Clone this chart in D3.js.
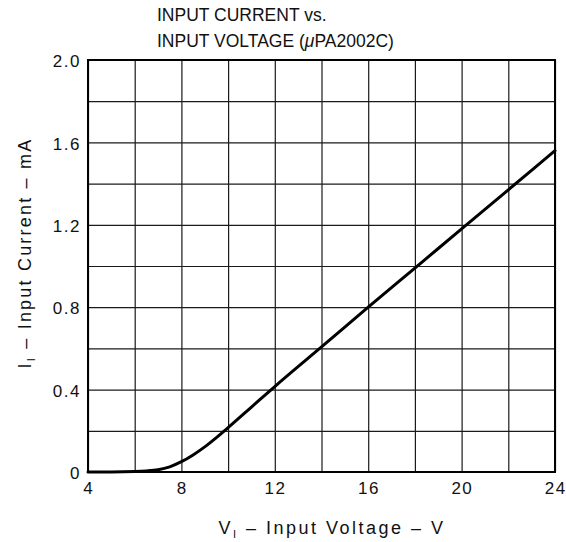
<!DOCTYPE html>
<html>
<head>
<meta charset="utf-8">
<script src="https://cdn.jsdelivr.net/npm/d3@7"></script>
<style>
  body { margin: 0; background: #fff; }
  svg { font-family: "Liberation Sans", Arial, sans-serif; }
  .grid line { stroke: #1a1a1a; stroke-width: 1.2; }
  .grid path { display: none; }
  .tick-label { font-size: 17px; fill: #111; letter-spacing: 1.5px; }
</style>
</head>
<body>
<div id="chart"></div>
<script>
// values (V in volts, I in mA)
var voltage = [4, 5, 6, 6.5, 7, 7.5, 8, 8.5, 9, 9.5, 10, 11, 12, 14, 16, 18, 20, 22, 24];
var current = [0, 0, 0.002, 0.005, 0.011, 0.025, 0.05, 0.083, 0.122, 0.167, 0.215, 0.315, 0.415, 0.607, 0.8, 0.99, 1.18, 1.37, 1.56];

var xTicks = [4, 8, 12, 16, 20, 24];
var xTickLabels = ["4", "8", "12", "16", "20", "24"];
var yTicks = [0, 0.4, 0.8, 1.2, 1.6, 2.0];
var yTickLabels = ["0", "0.4", "0.8", "1.2", "1.6", "2.0"];
var xGridValues = [4, 6, 8, 10, 12, 14, 16, 18, 20, 22, 24];
var yGridValues = [0, 0.2, 0.4, 0.6, 0.8, 1.0, 1.2, 1.4, 1.6, 1.8, 2.0];

var data = voltage.map(function (v, i) { return { v: v, i: current[i] }; });

// set the dimensions and margins of the graph
var margin = { top: 60, right: 11, bottom: 70, left: 88 },
    width = 566 - margin.left - margin.right,
    height = 542 - margin.top - margin.bottom;

var root = d3.select("#chart")
    .append("svg")
    .attr("width", 566)
    .attr("height", 542);

var svg = root.append("g")
    .attr("transform", "translate(" + margin.left + "," + margin.top + ")");

var x = d3.scaleLinear().domain([4, 24]).range([0, width]);
var y = d3.scaleLinear().domain([0, 2]).range([height, 0]);

// vertical gridlines
svg.append("g")
    .attr("class", "grid")
    .attr("transform", "translate(0," + height + ")")
    .call(d3.axisBottom(x).tickValues(xGridValues).tickSize(-height).tickFormat(""));

// horizontal gridlines
svg.append("g")
    .attr("class", "grid")
    .call(d3.axisLeft(y).tickValues(yGridValues).tickSize(-width).tickFormat(""));

// frame
svg.append("rect")
    .attr("x", 0).attr("y", 0)
    .attr("width", width).attr("height", height)
    .attr("fill", "none")
    .attr("stroke", "#000")
    .attr("stroke-width", 2);

// tick labels
svg.append("g")
    .selectAll("xlab")
    .data(xTicks)
    .enter()
    .append("text")
    .attr("class", "tick-label")
    .attr("x", function (d) { return x(d) + 0.75; })
    .attr("y", height + 22)
    .attr("text-anchor", "middle")
    .text(function (d, i) { return xTickLabels[i]; });

svg.append("g")
    .selectAll("ylab")
    .data(yTicks)
    .enter()
    .append("text")
    .attr("class", "tick-label")
    .attr("x", -7)
    .attr("y", function (d) { return y(d); })
    .attr("dy", "0.42em")
    .attr("text-anchor", "end")
    .text(function (d, i) { return yTickLabels[i]; });

// the curve
svg.append("path")
    .datum(data)
    .attr("fill", "none")
    .attr("stroke", "#000")
    .attr("stroke-width", 3)
    .attr("stroke-linecap", "round")
    .attr("d", d3.line()
        .x(function (d) { return x(d.v); })
        .y(function (d) { return y(d.i); })
        .curve(d3.curveMonotoneX));

// title
var title = root.append("text")
    .attr("font-size", "17.5px")
    .attr("fill", "#111");
title.append("tspan").attr("x", 157).attr("y", 21).text("INPUT CURRENT vs.");
var t2 = title.append("tspan").attr("x", 157).attr("y", 47);
t2.append("tspan").text("INPUT VOLTAGE (");
t2.append("tspan").attr("font-style", "italic").text("\u03bc");
t2.append("tspan").text("PA2002C)");

// x axis title
var xt = root.append("text")
    .attr("x", 332)
    .attr("y", 534)
    .attr("text-anchor", "middle")
    .attr("font-size", "18px")
    .attr("letter-spacing", "2.5px")
    .attr("fill", "#111");
xt.append("tspan").text("V");
xt.append("tspan").attr("font-size", "11px").attr("dy", "4").text("I");
xt.append("tspan").attr("dy", "-4").text(" \u2013 Input Voltage \u2013 V");

// y axis title
var yt = root.append("text")
    .attr("transform", "translate(31,253) rotate(-90)")
    .attr("text-anchor", "middle")
    .attr("font-size", "18px")
    .attr("letter-spacing", "2.2px")
    .attr("fill", "#111");
yt.append("tspan").text("I");
yt.append("tspan").attr("font-size", "11px").attr("dy", "4").text("I");
yt.append("tspan").attr("dy", "-4").text(" \u2013 Input Current \u2013 mA");
</script>
</body>
</html>
